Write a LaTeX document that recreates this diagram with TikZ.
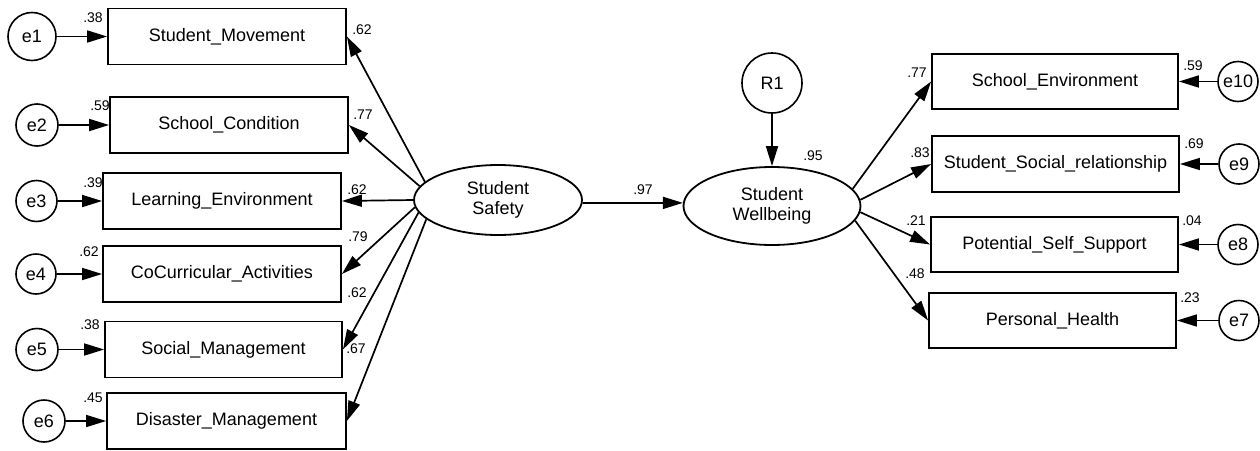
\documentclass[tikz,border=0pt]{standalone}
\usepackage{fontspec}
\setmainfont{Liberation Sans}
\usetikzlibrary{arrows.meta,shapes.geometric}
\begin{document}
\begin{tikzpicture}[x=1pt,y=-1pt,
  every node/.style={font=\fontsize{18}{20}\selectfont},
  obs/.style={draw,line width=1.8pt,rectangle,minimum height=56pt,inner sep=0pt},
  lat/.style={draw,line width=1.8pt,ellipse,inner sep=0pt,align=center},
  err/.style={draw,line width=1.6pt,circle,inner sep=0pt},
  arr/.style={line width=1.7pt,-{Triangle[length=20pt,width=12pt]}},
  lbl/.style={font=\fontsize{14}{15}\selectfont,inner sep=0pt}]
\useasboundingbox (0,0) rectangle (1260,450);
% left observed
\node[obs,minimum width=238pt] (sm) at (227,36.5) {Student\_Movement};
\node[obs,minimum width=238pt] (sc) at (229,125) {School\_Condition};
\node[obs,minimum width=238pt] (le) at (222,201) {Learning\_Environment};
\node[obs,minimum width=238pt] (cc) at (222,274) {CoCurricular\_Activities};
\node[obs,minimum width=237pt] (sg) at (223.5,349.5) {Social\_Management};
\node[obs,minimum width=239pt] (dm) at (226.5,421) {Disaster\_Management};
% left errors
\node[err,minimum size=48pt] (e1) at (32,36.5) {e1};
\node[err,minimum size=42pt] (e2) at (37,125) {e2};
\node[err,minimum size=41pt] (e3) at (36.5,201) {e3};
\node[err,minimum size=40pt] (e4) at (36,274) {e4};
\node[err,minimum size=42pt] (e5) at (37,349.5) {e5};
\node[err,minimum size=42pt] (e6) at (44,421) {e6};
% latents
\node[lat,minimum width=168pt,minimum height=70pt] (ss) at (498,200) {Student\\Safety};
\node[lat,minimum width=177pt,minimum height=78pt] (sw) at (772,206) {Student\\Wellbeing};
\node[err,minimum size=60pt] (r1) at (772,83) {R1};
% right observed
\node[obs,minimum width=246pt,minimum height=55pt] (se) at (1055,81.5) {School\_Environment};
\node[obs,minimum width=247pt] (sr) at (1055.5,164) {Student\_Social\_relationship};
\node[obs,minimum width=247pt,minimum height=55pt] (ps) at (1054.5,244.5) {Potential\_Self\_Support};
\node[obs,minimum width=247pt,minimum height=55pt] (ph) at (1052.5,320.5) {Personal\_Health};
% right errors
\node[err,minimum size=40pt] (e10) at (1238,81.5) {e10};
\node[err,minimum size=40pt] (e9) at (1239,164) {e9};
\node[err,minimum size=40pt] (e8) at (1238,244.5) {e8};
\node[err,minimum size=40pt] (e7) at (1239,320.5) {e7};
% arrows
\foreach \e/\b in {e1/sm,e2/sc,e3/le,e4/cc,e5/sg,e6/dm}
  \draw[arr] (\e) -- (\b.west);
\foreach \a/\b in {166.7/sm,170.8/sc,180/le,185.5/cc,189.5/sg,195.3/dm}
  \draw[arr] (ss.\a) -- (\b.east);
\foreach \a/\b in {12.5/se,4.5/sr,-4.5/ps,-10.7/ph}
  \draw[arr] (sw.\a) -- (\b.west);
\foreach \e/\b in {e10/se,e9/sr,e8/ps,e7/ph}
  \draw[arr] (\e) -- (\b.east);
\draw[arr] (ss.-2) -- (sw.178);
\draw[arr] (r1) -- (sw);
% labels
\node[lbl] (l1) at (362,30) {.62};
\node[lbl] (l2) at (363,115) {.77};
\node[lbl] (l3) at (357,190) {.62};
\node[lbl] (l4) at (358,237) {.79};
\node[lbl] (l5) at (357,293) {.62};
\node[lbl] (l6) at (356,349) {.67};
\node[lbl] (v1) at (93,18) {.38};
\node[lbl] (v2) at (100,106) {.59};
\node[lbl] (v3) at (93,183) {.39};
\node[lbl] (v4) at (89,252) {.62};
\node[lbl] (v5) at (90,325) {.38};
\node[lbl] (v6) at (93,398) {.45};
\node[lbl] (r1l) at (917,73) {.77};
\node[lbl] (r2l) at (920,153) {.83};
\node[lbl] (r3l) at (916,221) {.21};
\node[lbl] (r4l) at (915,274) {.48};
\node[lbl] (w1) at (1193,66) {.59};
\node[lbl] (w2) at (1194,144) {.69};
\node[lbl] (w3) at (1192,221) {.04};
\node[lbl] (w4) at (1190,298) {.23};
\node[lbl] (g) at (643,190) {.97};
\node[lbl] (rsq) at (813,156) {.95};
\end{tikzpicture}
\end{document}
